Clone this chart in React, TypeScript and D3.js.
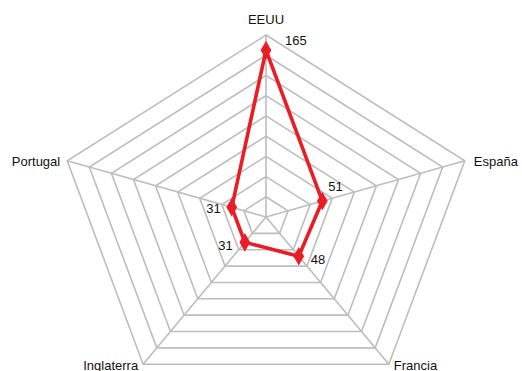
import React from "react";
import * as d3 from "d3";

const categories = ["EEUU", "España", "Francia", "Inglaterra", "Portugal"];
const values = [165, 51, 48, 31, 31];
const ringValues = [20, 40, 60, 80, 100, 120, 140, 160, 180];

const W = 522;
const H = 371;
const CX = 266;
const CY = 217;
const RX = 209;
const RY = 182;
const RED = "#ec1c24";
const GRID = "#bdbdbd";
const FONT = "'Liberation Sans', Arial, Helvetica, sans-serif";

// label nudges for value labels, relative to each point
const valueNudge: [number, number, string][] = [
  [19, -5, "start"],
  [6, -10, "start"],
  [12, 8, "start"],
  [-12, 8, "end"],
  [-11, 6, "end"],
];

// category label placement relative to the outer vertex (baseline offsets)
const axisNudge: [number, number, string][] = [
  [0, -11, "middle"],
  [9, 5, "start"],
  [5, 6, "start"],
  [-5, 6, "end"],
  [-7, 5, "end"],
];

export default function App() {
  const r = d3.scaleLinear().domain([0, 180]).range([0, 1]);
  const angle = d3
    .scaleBand<string>()
    .domain(categories)
    .range([0, 2 * Math.PI])
    .paddingInner(0)
    .paddingOuter(0);

  const pt = (cat: string, v: number): [number, number] => {
    const a = angle(cat) as number;
    const k = r(v);
    return [CX + RX * k * Math.sin(a), CY - RY * k * Math.cos(a)];
  };

  const line = d3
    .line<[number, number]>()
    .x((d) => d[0])
    .y((d) => d[1])
    .curve(d3.curveLinearClosed);

  const dataPts = categories.map((c, i) => pt(c, values[i]));
  const diamond = d3.symbol(d3.symbolDiamond, 100)() as string;

  return (
    <svg
      width={W}
      height={H}
      style={{ position: "absolute", left: 0, top: 0, background: "#fff" }}
      fontFamily={FONT}
      fontSize={13}
    >
      <g fill="none" stroke={GRID} strokeWidth={1.6}>
        {ringValues.map((rv) => (
          <path key={rv} d={line(categories.map((c) => pt(c, rv))) as string} />
        ))}
        {categories.map((c) => {
          const [x, y] = pt(c, 180);
          return <line key={c} x1={CX} y1={CY} x2={x} y2={y} />;
        })}
      </g>
      <path d={line(dataPts) as string} fill="none" stroke={RED} strokeWidth={3.6} strokeLinejoin="round" />
      {dataPts.map(([x, y], i) => (
        <path key={i} d={diamond} transform={`translate(${x},${y})`} fill={RED} />
      ))}
      {dataPts.map(([x, y], i) => (
        <text
          key={"v" + i}
          x={x + valueNudge[i][0]}
          y={y + valueNudge[i][1]}
          textAnchor={valueNudge[i][2] as any}
          fill="#111"
        >
          {values[i]}
        </text>
      ))}
      {categories.map((c, i) => {
        const [x, y] = pt(c, 180);
        return (
          <text
            key={"a" + c}
            x={x + axisNudge[i][0]}
            y={y + axisNudge[i][1]}
            textAnchor={axisNudge[i][2] as any}
            fill="#111"
          >
            {c}
          </text>
        );
      })}
    </svg>
  );
}
